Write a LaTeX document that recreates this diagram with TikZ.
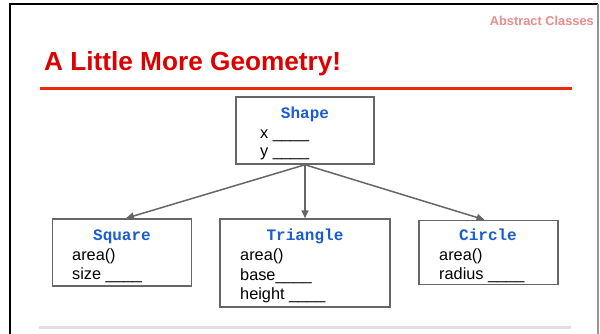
\documentclass[tikz,border=0pt]{standalone}
\usepackage{fontspec}
\setmainfont{Liberation Sans}
\newfontfamily\codefont{Liberation Mono}
\usetikzlibrary{arrows.meta}
\definecolor{titlered}{HTML}{DD0000}
\definecolor{rulered}{HTML}{E8290B}
\definecolor{tagpink}{HTML}{E98C8C}
\definecolor{boxgray}{HTML}{666666}
\definecolor{codeblue}{HTML}{1A5CCF}
\definecolor{footgray}{HTML}{DDE0DE}
\tikzset{
  umlbox/.style={draw=boxgray, line width=1.5pt, inner sep=0pt, fill=white},
  clsname/.style={anchor=base, font=\codefont\bfseries\fontsize{16}{19}\selectfont, text=codeblue, inner sep=0pt},
  attr/.style={anchor=base west, font=\fontsize{16.3}{19}\selectfont, text=black, inner sep=0pt},
  arr/.style={draw=boxgray, line width=1.5pt, -{Triangle[length=8pt,width=7pt]}},
}
\begin{document}
\begin{tikzpicture}[x=1pt,y=-1pt]
\useasboundingbox (0,0) rectangle (600,333);
\fill[white] (0,0) rectangle (600,333);
% frame
\draw[black, line width=2.5pt] (10,334) -- (10,4) -- (598,4);
\draw[boxgray!70, line width=1.2pt] (598,4) -- (598,334);
% header
\node[anchor=base east, inner sep=0pt, text=tagpink, font=\bfseries\fontsize{12.8}{15}\selectfont] (tag) at (594,25) {Abstract Classes};
\node[anchor=base west, inner sep=0pt, text=titlered, font=\bfseries\fontsize{26.2}{30}\selectfont] (title) at (44,70) {A Little More Geometry!};
\draw[rulered, line width=3pt] (39.5,88.5) -- (571.5,88.5);
\draw[footgray, line width=3pt] (39,327) -- (571,327);
% boxes
\node[umlbox, minimum width=138pt, minimum height=67pt] (shape) at (305,130.5) {};
\node[umlbox, minimum width=139pt, minimum height=67pt] (square) at (122,252.5) {};
\node[umlbox, minimum width=170pt, minimum height=88pt] (triangle) at (305,263) {};
\node[umlbox, minimum width=139pt, minimum height=64pt] (circle) at (488.5,252.5) {};
% texts
\node[clsname] (shapet) at (305,118) {Shape};
\node[attr] (shx) at (260,138) {x \_\_\_\_};
\node[attr] (shy) at (260,156) {y \_\_\_\_};
\node[clsname] (squaret) at (122,240) {Square};
\node[attr] (sqa) at (72,260) {area()};
\node[attr] (sqs) at (72,279) {size \_\_\_\_};
\node[clsname] (trit) at (305,240) {Triangle};
\node[attr] (tra) at (240,260) {area()};
\node[attr] (trb) at (240,280) {base\_\_\_\_};
\node[attr] (trh) at (240,299) {height \_\_\_\_};
\node[clsname] (circt) at (488,240) {Circle};
\node[attr] (cia) at (439,260) {area()};
\node[attr] (cir) at (439,279) {radius \_\_\_\_};
% connectors
\draw[arr] (shape.south) -- ([xshift=4pt]square.north);
\draw[arr] (shape.south) -- (triangle.north);
\draw[arr] (shape.south) -- ([xshift=-4pt]circle.north);
\end{tikzpicture}
\end{document}
